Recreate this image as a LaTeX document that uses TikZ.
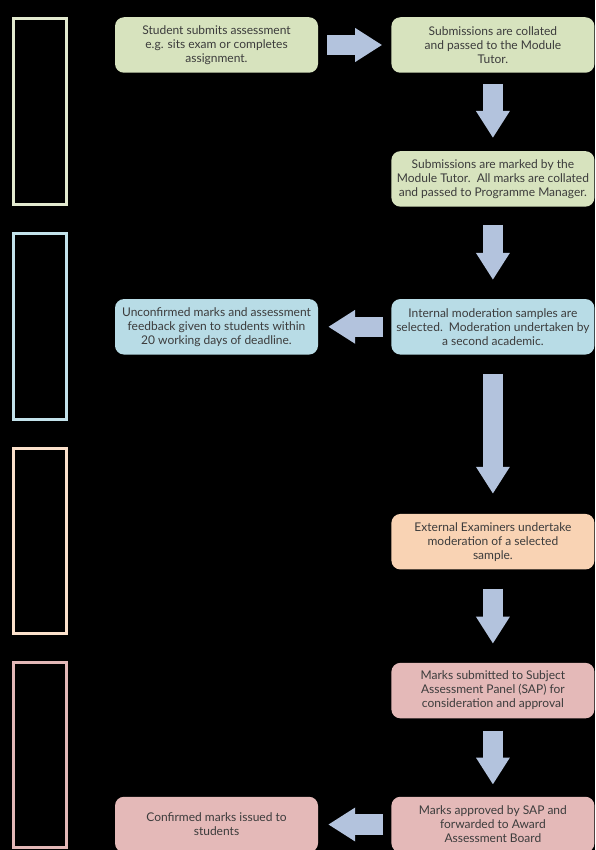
\documentclass[tikz,border=0pt]{standalone}
\usepackage{fontspec}
\setmainfont{Lato}
\usepackage{xcolor}
\usepackage{tikz}
\usetikzlibrary{arrows.meta,positioning}

\definecolor{greenfill}{HTML}{D7E3BE}
\definecolor{bluefill}{HTML}{B8DCE6}
\definecolor{peachfill}{HTML}{F9D3B4}
\definecolor{pinkfill}{HTML}{E4B9B8}
\definecolor{greenline}{HTML}{E3EACF}
\definecolor{blueline}{HTML}{C3E2EB}
\definecolor{peachline}{HTML}{FBE1CB}
\definecolor{pinkline}{HTML}{E3B8B7}
\definecolor{arrowblue}{HTML}{B3C3DD}
\definecolor{textgrey}{HTML}{3C3C3C}

\begin{document}
\begin{tikzpicture}[
  x=1pt, y=-1pt,
  font=\fontsize{12}{14}\selectfont,
  task/.style={rounded corners=9pt, align=center, minimum width=203pt, minimum height=55.5pt, inner sep=1pt, text=textgrey},
  stage/.style={draw, line width=3pt, fill=black, minimum width=53pt, minimum height=185.5pt, inner sep=0pt},
  flow/.style={-{Triangle[length=27pt, width=32pt]}, line width=20.5pt, draw=arrowblue}
]
\fill[black] (0,0) rectangle (595,850);
\useasboundingbox (0,0) rectangle (595,850);

% stage frames down the left side
\node[stage, draw=greenline] (stage1) at (40,111.75) {};
\node[stage, draw=blueline] (stage2) at (40,326.25) {};
\node[stage, draw=peachline] (stage3) at (40,540.75) {};
\node[stage, draw=pinkline] (stage4) at (40,755) {};

\node[task, fill=greenfill] (submit) at (216.5,45) {Student submits assessment\\e.g. sits exam or completes\\assignment.};
\node[task, fill=greenfill, right=73pt of submit] (collate) {Submissions are collated\\and passed to the Module\\Tutor.};
\node[task, fill=greenfill, below=78pt of collate] (mark) {Submissions are marked by the\\Module Tutor.\, All marks are collated\\and passed to Programme Manager.};
\node[task, fill=bluefill, below=92pt of mark] (internal) {Internal moderation samples are\\selected.\, Moderation undertaken by\\a second academic.};
\node[task, fill=bluefill, left=73pt of internal] (feedback) {Unconfirmed marks and assessment\\feedback given to students within\\20 working days of deadline.};
\node[task, fill=peachfill, below=159pt of internal] (external) {External Examiners undertake\\moderation of a selected\\sample.};
\node[task, fill=pinkfill, below=93pt of external] (sap) {Marks submitted to Subject\\Assessment Panel (SAP) for\\consideration and approval};
\node[task, fill=pinkfill, below=78pt of sap] (approved) {Marks approved by SAP and\\forwarded to Award\\Assessment Board};
\node[task, fill=pinkfill, left=73pt of approved] (confirmed) {Confirmed marks issued to\\students};

\draw[flow, shorten <=9pt, shorten >=9pt] (submit) -- (collate);
\draw[flow, shorten <=11pt, shorten >=13pt] (collate) -- (mark);
\draw[flow, shorten <=18pt, shorten >=19pt] (mark) -- (internal);
\draw[flow, shorten <=8pt, shorten >=10pt] (internal) -- (feedback);
\draw[flow, shorten <=19pt, shorten >=20pt] (internal) -- (external);
\draw[flow, shorten <=19pt, shorten >=19pt] (external) -- (sap);
\draw[flow, shorten <=12pt, shorten >=12pt] (sap) -- (approved);
\draw[flow, shorten <=8pt, shorten >=10pt] (approved) -- (confirmed);
\end{tikzpicture}
\end{document}
